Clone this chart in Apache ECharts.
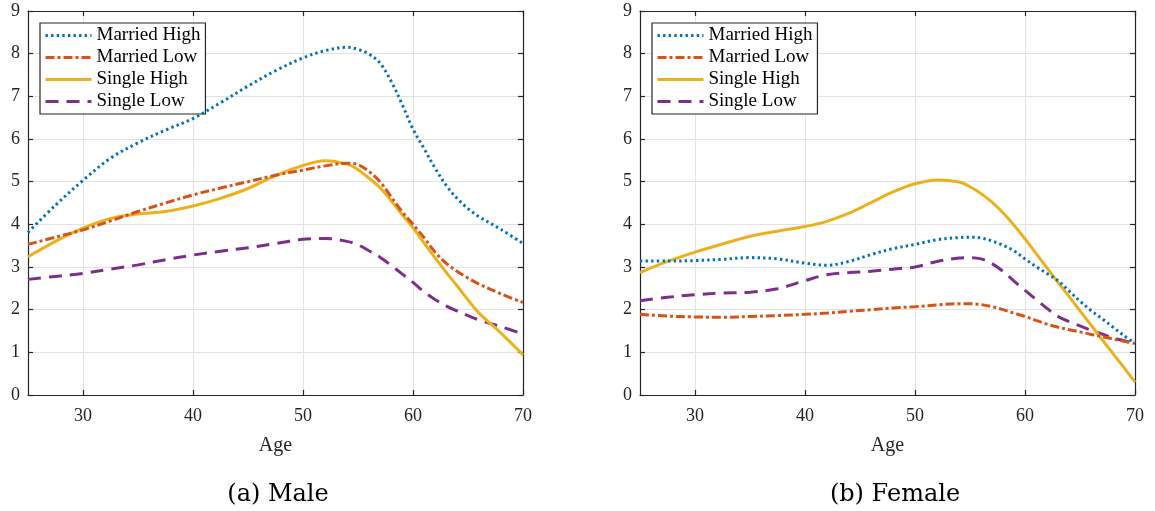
<!DOCTYPE html>
<html>
<head>
<meta charset="utf-8">
<script src="https://cdn.jsdelivr.net/npm/echarts@6/dist/echarts.min.js"></script>
<style>html,body{margin:0;padding:0;background:#fff}#c{width:1155px;height:511px}</style>
</head>
<body>
<div id="c"></div>
<script>
// ---------- data ----------
const seriesNames = ['Married High', 'Married Low', 'Single High', 'Single Low'];
const xTicks = [30, 40, 50, 60, 70];
const yTicks = [0, 1, 2, 3, 4, 5, 6, 7, 8, 9];
const panelTitles = ['(a) Male', '(b) Female'];

const maleAges = [25, 27.5, 30, 32.5, 35, 37.5, 40, 42.5, 45, 47.5, 50, 52, 54, 55, 56, 57, 58, 59, 60, 61, 62, 63, 64, 65, 66, 68, 70];
const maleMarriedHigh = [3.81, 4.45, 5.03, 5.55, 5.91, 6.21, 6.48, 6.85, 7.24, 7.6, 7.9, 8.07, 8.15, 8.1, 7.99, 7.78, 7.36, 6.82, 6.23, 5.78, 5.32, 4.92, 4.61, 4.37, 4.18, 3.88, 3.55];
const maleMarriedLow  = [3.53, 3.70, 3.87, 4.08, 4.30, 4.50, 4.69, 4.85, 5.0, 5.15, 5.27, 5.37, 5.43, 5.40, 5.24, 5.0, 4.65, 4.30, 4.00, 3.69, 3.35, 3.09, 2.90, 2.74, 2.60, 2.37, 2.17];
const maleSingleHigh  = [3.24, 3.60, 3.91, 4.14, 4.24, 4.30, 4.43, 4.61, 4.84, 5.14, 5.38, 5.49, 5.41, 5.28, 5.08, 4.86, 4.56, 4.23, 3.92, 3.56, 3.22, 2.88, 2.56, 2.23, 1.92, 1.45, 0.94];
const maleSingleLow   = [2.71, 2.78, 2.85, 2.95, 3.05, 3.17, 3.28, 3.37, 3.45, 3.55, 3.65, 3.67, 3.60, 3.52, 3.38, 3.23, 3.04, 2.84, 2.64, 2.42, 2.24, 2.09, 1.97, 1.86, 1.76, 1.60, 1.43];

const femaleAges = [25, 27.5, 30, 32.5, 35, 37.5, 40, 42, 44, 46, 48, 50, 52, 54, 55, 56, 57, 58, 59, 60, 61, 62, 63, 64, 65, 66, 67, 68, 69, 70];
const femaleMarriedHigh = [3.14, 3.14, 3.15, 3.18, 3.22, 3.19, 3.09, 3.04, 3.13, 3.29, 3.43, 3.53, 3.64, 3.69, 3.70, 3.68, 3.61, 3.51, 3.38, 3.19, 3.01, 2.85, 2.68, 2.44, 2.20, 1.98, 1.79, 1.59, 1.39, 1.21];
const femaleMarriedLow  = [1.89, 1.85, 1.83, 1.82, 1.84, 1.86, 1.89, 1.92, 1.96, 2.00, 2.04, 2.07, 2.11, 2.14, 2.14, 2.12, 2.07, 2.00, 1.92, 1.84, 1.75, 1.66, 1.59, 1.53, 1.48, 1.42, 1.37, 1.31, 1.26, 1.21];
const femaleSingleHigh  = [2.87, 3.13, 3.35, 3.54, 3.72, 3.84, 3.95, 4.07, 4.26, 4.51, 4.76, 4.95, 5.04, 4.99, 4.88, 4.72, 4.52, 4.27, 3.98, 3.66, 3.32, 2.98, 2.64, 2.31, 1.97, 1.64, 1.30, 0.97, 0.64, 0.30];
const femaleSingleLow   = [2.21, 2.29, 2.35, 2.39, 2.41, 2.49, 2.68, 2.82, 2.87, 2.90, 2.95, 3.00, 3.13, 3.21, 3.22, 3.19, 3.08, 2.90, 2.67, 2.45, 2.24, 2.03, 1.84, 1.72, 1.62, 1.52, 1.43, 1.34, 1.27, 1.20];

// ---------- styles ----------
const colors = ['#0072BD', '#D95319', '#EDB120', '#7E2F8E'];
const dashes = [[2.4, 3.2], [9, 3, 3, 3], 'solid', [13, 8]];
const serif = 'Liberation Serif';
const textColor = '#262626';

const grids = [
  { left: 28, top: 11, width: 495, height: 384 },
  { left: 640, top: 11, width: 495, height: 384 }
];
const titleCenters = [273, 890];

function pairs(xs, ys) { return xs.map((x, i) => [x, ys[i]]); }

const panels = [
  { ages: maleAges, vals: [maleMarriedHigh, maleMarriedLow, maleSingleHigh, maleSingleLow] },
  { ages: femaleAges, vals: [femaleMarriedHigh, femaleMarriedLow, femaleSingleHigh, femaleSingleLow] }
];

const xAxes = [], yAxes = [], series = [], legends = [], titles = [];
panels.forEach((p, gi) => {
  xAxes.push({
    type: 'value', gridIndex: gi, min: 25, max: 70, position: 'bottom',
    name: 'Age', nameLocation: 'middle', nameGap: 41,
    nameTextStyle: { fontFamily: serif, fontSize: 20, color: textColor },
    axisLine: { show: true, onZero: false, lineStyle: { color: textColor, width: 1.2 } },
    axisTick: { show: true, inside: true, length: 5, customValues: xTicks, lineStyle: { color: textColor, width: 1.2 } },
    axisLabel: { show: true, customValues: xTicks, margin: 12, fontFamily: serif, fontSize: 18, color: textColor },
    splitLine: { show: true, lineStyle: { color: '#e3e3e3', width: 1 } }
  });
  xAxes.push({
    type: 'value', gridIndex: gi, min: 25, max: 70, position: 'top',
    axisLine: { show: true, onZero: false, lineStyle: { color: textColor, width: 1.2 } },
    axisTick: { show: true, inside: true, length: 5, customValues: xTicks, lineStyle: { color: textColor, width: 1.2 } },
    axisLabel: { show: false },
    splitLine: { show: false }
  });
  yAxes.push({
    type: 'value', gridIndex: gi, min: 0, max: 9, interval: 1, position: 'left',
    axisLine: { show: true, onZero: false, lineStyle: { color: textColor, width: 1.2 } },
    axisTick: { show: true, inside: true, length: 5, lineStyle: { color: textColor, width: 1.2 } },
    axisLabel: { show: true, margin: 8, fontFamily: serif, fontSize: 18, color: textColor },
    splitLine: { show: true, lineStyle: { color: '#e3e3e3', width: 1 } }
  });
  yAxes.push({
    type: 'value', gridIndex: gi, min: 0, max: 9, interval: 1, position: 'right',
    axisLine: { show: true, onZero: false, lineStyle: { color: textColor, width: 1.2 } },
    axisTick: { show: true, inside: true, length: 5, lineStyle: { color: textColor, width: 1.2 } },
    axisLabel: { show: false },
    splitLine: { show: false }
  });
  p.vals.forEach((v, si) => {
    series.push({
      type: 'line', name: seriesNames[si],
      xAxisIndex: gi * 2, yAxisIndex: gi * 2,
      data: pairs(p.ages, v),
      smooth: 0.35, symbol: 'none', silent: true,
      lineStyle: { color: colors[si], width: 3, type: dashes[si], cap: 'butt' },
      itemStyle: { color: colors[si] },
      z: 10 - si
    });
  });
  legends.push({
    data: seriesNames,
    orient: 'vertical',
    left: grids[gi].left + 12, top: 23,
    itemWidth: 46, itemHeight: 14, itemGap: 3,
    padding: [3, 5, 3, 4],
    borderColor: textColor, borderWidth: 1.2, backgroundColor: '#fff',
    selectedMode: false,
    itemStyle: { opacity: 0 },
    lineStyle: { width: 3 },
    textStyle: { fontFamily: serif, fontSize: 19, color: '#000', lineHeight: 19 }
  });
  titles.push({
    text: panelTitles[gi],
    left: titleCenters[gi], top: 478, textAlign: 'center',
    textStyle: { fontFamily: 'DejaVu Serif', fontSize: 24, fontWeight: 'normal', color: '#000' }
  });
});

const chart = echarts.init(document.getElementById('c'), null, { renderer: 'canvas' });
chart.setOption({
  animation: false,
  backgroundColor: '#fff',
  title: titles,
  legend: legends,
  grid: grids.map(g => Object.assign({ containLabel: false, outerBoundsMode: 'none' }, g)),
  xAxis: xAxes,
  yAxis: yAxes,
  series: series
});
</script>
</body>
</html>
